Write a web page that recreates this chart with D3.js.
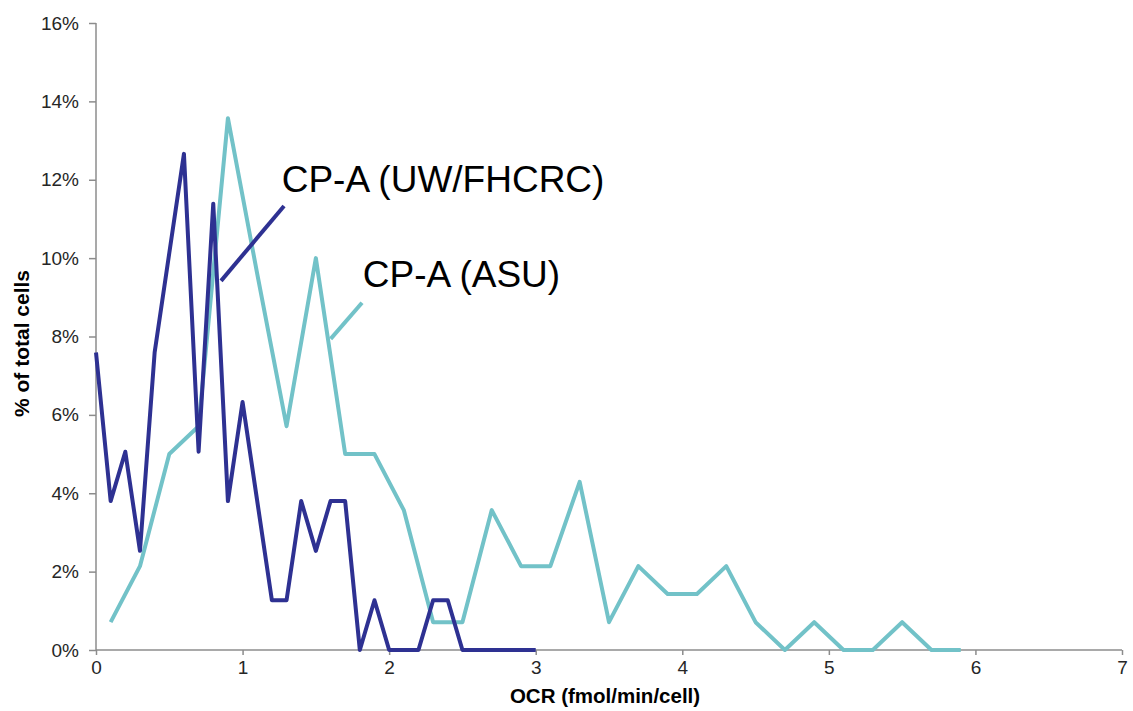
<!DOCTYPE html>
<html>
<head>
<meta charset="utf-8">
<script src="https://cdn.jsdelivr.net/npm/d3@7"></script>
<style>
  body { margin: 0; background: #fff; }
  svg text { font-family: "Liberation Sans", Arial, sans-serif; }
  .tick text { fill: #262626; font-size: 19px; }
  .domain, .tick line { stroke: #8c8c8c; stroke-width: 1.5; }
</style>
</head>
<body>
<div id="chart"></div>
<script>
// OCR distribution of single cells, two labs
var uwOcr = [0, 0.1, 0.2, 0.3, 0.4, 0.5, 0.6, 0.7, 0.8, 0.9, 1.0, 1.1, 1.2, 1.3, 1.4, 1.5,
    1.6, 1.7, 1.8, 1.9, 2.0, 2.1, 2.2, 2.3, 2.4, 2.5, 2.6, 2.7, 2.8, 2.9, 3.0];
var uwPct = [7.59, 3.8, 5.06, 2.53, 7.59, 10.13, 12.66, 5.06, 11.39, 3.8, 6.33, 3.8, 1.27, 1.27, 3.8, 2.53,
    3.8, 3.8, 0, 1.27, 0, 0, 0, 1.27, 1.27, 0, 0, 0, 0, 0, 0];

var asuOcr = [0.1, 0.3, 0.5, 0.7, 0.9, 1.1, 1.3, 1.5, 1.7, 1.9, 2.1, 2.3, 2.5, 2.7, 2.9,
    3.1, 3.3, 3.5, 3.7, 3.9, 4.1, 4.3, 4.5, 4.7, 4.9, 5.1, 5.3, 5.5, 5.7, 5.9];
var asuPct = [0.71, 2.14, 5.0, 5.71, 13.57, 9.6, 5.71, 10.0, 5.0, 5.0, 3.57, 0.71, 0.71, 3.57, 2.14,
    2.14, 4.29, 0.71, 2.14, 1.43, 1.43, 2.14, 0.71, 0, 0.71, 0, 0, 0.71, 0, 0];

var xTicks = [0, 1, 2, 3, 4, 5, 6, 7];
var yTicks = [0, 2, 4, 6, 8, 10, 12, 14, 16];

var seriesNames = ["CP-A (UW/FHCRC)", "CP-A (ASU)"];

// Define SVG area dimensions
var svgWidth = 1133;
var svgHeight = 711;

var margin = {
    top: 23,
    right: 11,
    bottom: 61,
    left: 96
};
var width = svgWidth - margin.left - margin.right;
var height = svgHeight - margin.top - margin.bottom;

var svg = d3.select("#chart")
    .append("svg")
    .attr("width", svgWidth)
    .attr("height", svgHeight);

var chartGroup = svg.append("g")
    .attr("transform", `translate(${margin.left}, ${margin.top})`);

// scales
var xLinearScale = d3.scaleLinear()
    .domain([0, 7])
    .range([0, width]);

var yLinearScale = d3.scaleLinear()
    .domain([0, 16])
    .range([height, 0]);

// axes
var bottomAxis = d3.axisBottom(xLinearScale)
    .tickValues(xTicks)
    .tickSize(5)
    .tickPadding(6)
    .tickFormat(d3.format("d"));

var leftAxis = d3.axisLeft(yLinearScale)
    .tickValues(yTicks)
    .tickSize(7)
    .tickPadding(10)
    .tickFormat(d => d + "%");

chartGroup.append("g")
    .attr("transform", `translate(0, ${height})`)
    .call(bottomAxis);

chartGroup.append("g")
    .call(leftAxis);

chartGroup.selectAll(".domain").attr("d", function() {
    // plain lines, no end caps
    return d3.select(this.parentNode).attr("transform") ? `M0,0H${width}` : `M0,0V${height}`;
});

// line generators
var line = d3.line()
    .x(d => xLinearScale(d[0]))
    .y(d => yLinearScale(d[1]));

var asuData = asuOcr.map((x, i) => [x, asuPct[i]]);
var uwData = uwOcr.map((x, i) => [x, uwPct[i]]);

chartGroup.append("path")
    .datum(asuData)
    .attr("d", line)
    .attr("fill", "none")
    .attr("stroke", "#72c2c8")
    .attr("stroke-width", 4)
    .attr("stroke-linejoin", "round");

chartGroup.append("path")
    .datum(uwData)
    .attr("d", line)
    .attr("fill", "none")
    .attr("stroke", "#2e3192")
    .attr("stroke-width", 4)
    .attr("stroke-linejoin", "round");

// callout lines + labels (data units)
var callouts = [
    { name: seriesNames[0], color: "#2e3192", from: [0.853, 9.42], to: [1.283, 11.33], text: [1.267, 11.69] },
    { name: seriesNames[1], color: "#72c2c8", from: [1.601, 7.94], to: [1.815, 8.86], text: [1.82, 9.27] }
];

callouts.forEach(function(c) {
    chartGroup.append("line")
        .attr("x1", xLinearScale(c.from[0]))
        .attr("y1", yLinearScale(c.from[1]))
        .attr("x2", xLinearScale(c.to[0]))
        .attr("y2", yLinearScale(c.to[1]))
        .attr("stroke", c.color)
        .attr("stroke-width", 4);

    chartGroup.append("text")
        .attr("x", xLinearScale(c.text[0]))
        .attr("y", yLinearScale(c.text[1]))
        .attr("font-size", "37px")
        .attr("fill", "#000")
        .text(c.name);
});

// axis titles
chartGroup.append("text")
    .attr("x", width / 2 - 4)
    .attr("y", height + 53)
    .attr("text-anchor", "middle")
    .attr("font-size", "20.5px")
    .attr("font-weight", "bold")
    .attr("fill", "#000")
    .text("OCR (fmol/min/cell)");

chartGroup.append("text")
    .attr("transform", "rotate(-90)")
    .attr("x", -(320.5))
    .attr("y", 29 - margin.left)
    .attr("text-anchor", "middle")
    .attr("font-size", "21px")
    .attr("font-weight", "bold")
    .attr("fill", "#000")
    .text("% of total cells");
</script>
</body>
</html>
